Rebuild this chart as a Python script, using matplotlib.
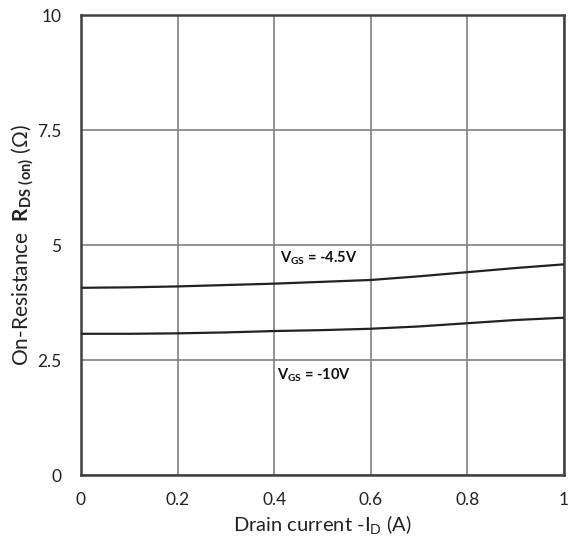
import matplotlib
matplotlib.use("Agg")
import matplotlib.pyplot as plt

plt.rcParams['font.family'] = ['Lato', 'DejaVu Sans']
plt.rcParams['mathtext.fontset'] = 'custom'
plt.rcParams['mathtext.rm'] = 'Lato'
plt.rcParams['mathtext.bf'] = 'Lato:bold'

# Drain current -ID (A)
current = [0, 0.1, 0.2, 0.3, 0.4, 0.5, 0.6, 0.7, 0.8, 0.9, 1.0]
# On-resistance (ohm) for each gate voltage
rds_45v = [4.07, 4.08, 4.10, 4.13, 4.16, 4.20, 4.24, 4.32, 4.41, 4.50, 4.58]
rds_10v = [3.07, 3.07, 3.08, 3.10, 3.13, 3.15, 3.18, 3.23, 3.30, 3.37, 3.42]

xticks = [0, 0.2, 0.4, 0.6, 0.8, 1]
xticklabels = ['0', '0.2', '0.4', '0.6', '0.8', '1']
yticks = [0, 2.5, 5, 7.5, 10]
yticklabels = ['0', '2.5', '5', '7.5', '10']

fig = plt.figure(figsize=(5.68, 5.44), dpi=100)
ax = fig.add_axes([0.1426, 0.1268, 0.8504, 0.8456])

ax.plot(current, rds_45v, color='#222222', lw=1.6, zorder=3)
ax.plot(current, rds_10v, color='#222222', lw=1.6, zorder=3)

ax.set_xlim(0, 1)
ax.set_ylim(0, 10)
ax.set_xticks(xticks)
ax.set_xticklabels(xticklabels)
ax.set_yticks(yticks)
ax.set_yticklabels(yticklabels)
ax.tick_params(length=0, labelsize=12.5, colors='#222222')
ax.tick_params(axis='x', pad=12)
ax.tick_params(axis='y', pad=14)
ax.grid(True, color='#808080', lw=1.2)
ax.set_axisbelow(True)
for s in ax.spines.values():
    s.set_color('#404040')
    s.set_linewidth(1.8)

ax.set_xlabel(r"Drain current -I$_{\mathrm{D}}$ (A)", fontsize=14.5, color='#222222', labelpad=4)
ax.set_ylabel(r"On-Resistance  $\mathbf{R}_{\mathbf{DS\ (on)}}$ (Ω)", fontsize=15, color='#222222', labelpad=1)

ax.text(0.412, 4.72, r"$\mathbf{V}_{\mathbf{GS}}$ = -4.5V", fontsize=10.5, fontweight='bold', va='center', ha='left', color='#111111')
ax.text(0.405, 2.17, r"$\mathbf{V}_{\mathbf{GS}}$ = -10V", fontsize=10.5, fontweight='bold', va='center', ha='left', color='#111111')

fig.savefig('out.png', dpi=100)
